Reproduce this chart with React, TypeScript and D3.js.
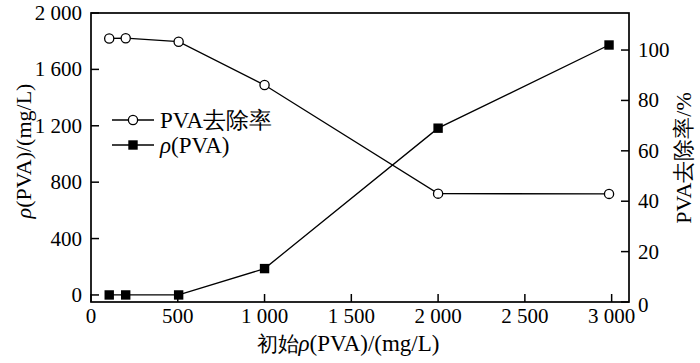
import * as d3 from 'd3';

const initialConc = [105, 200, 505, 1000, 2000, 2985];
const removalRate = [104.6, 104.7, 103.3, 86.1, 43.0, 42.9];
const residualConc = [0, 0, 0, 187, 1183, 1773];
const xTicks = [0, 500, 1000, 1500, 2000, 2500, 3000];
const leftTicks = [0, 400, 800, 1200, 1600, 2000];
const rightTicks = [0, 20, 40, 60, 80, 100];

const W = 700;
const H = 363;
const left = 91;
const right = 629;
const top = 13;
const bottom = 302;
const serif = 'Liberation Serif';

const fmt = (v: number) =>
  v >= 1000 ? `${Math.floor(v / 1000)} ${String(v % 1000).padStart(3, '0')}` : String(v);

export default function App() {
  const x = d3.scaleLinear().domain([0, 3100]).range([left, right]);
  const yL = d3.scaleLinear().domain([-50, 2000]).range([bottom, top]);
  const yR = d3.scaleLinear().domain([0, 114.7]).range([bottom, top]);

  const rateLine = d3.line<number>().x((_, i) => x(initialConc[i])).y(d => yR(d))(removalRate) || '';
  const concLine = d3.line<number>().x((_, i) => x(initialConc[i])).y(d => yL(d))(residualConc) || '';

  const tick = 8;

  return (
    <svg width={W} height={H} style={{ position: 'absolute', left: 0, top: 0, background: '#fff' }}>
      <rect x={left} y={top} width={right - left} height={bottom - top} fill="none" stroke="#000" strokeWidth={1.7} />

      {xTicks.map(t => (
        <g key={'x' + t}>
          <line x1={x(t)} x2={x(t)} y1={bottom} y2={bottom - tick} stroke="#000" strokeWidth={1.5} />
          <text x={x(t)} y={323} textAnchor="middle" fontFamily={serif} fontSize={21}>{fmt(t)}</text>
        </g>
      ))}
      {leftTicks.map(t => (
        <g key={'l' + t}>
          <line x1={left} x2={left + tick} y1={yL(t)} y2={yL(t)} stroke="#000" strokeWidth={1.5} />
          <text x={82} y={yL(t)} textAnchor="end" dominantBaseline="central" fontFamily={serif} fontSize={21}>{fmt(t)}</text>
        </g>
      ))}
      {rightTicks.map(t => (
        <g key={'r' + t}>
          <line x1={right} x2={right - tick} y1={yR(t)} y2={yR(t)} stroke="#000" strokeWidth={1.5} />
          <text x={638} y={t === 0 ? yR(t) + 3 : yR(t)} dominantBaseline="central" fontFamily={serif} fontSize={21}>{t}</text>
        </g>
      ))}

      <path d={concLine} fill="none" stroke="#000" strokeWidth={1.3} />
      <path d={rateLine} fill="none" stroke="#000" strokeWidth={1.3} />
      {residualConc.map((d, i) => (
        <rect key={'s' + i} x={x(initialConc[i]) - 4.7} y={yL(d) - 4.7} width={9.4} height={9.4} fill="#000" />
      ))}
      {removalRate.map((d, i) => (
        <circle key={'c' + i} cx={x(initialConc[i])} cy={yR(d)} r={4.6} fill="#fff" stroke="#000" strokeWidth={1.3} />
      ))}

      {/* legend */}
      <line x1={112} x2={154} y1={120} y2={120} stroke="#000" strokeWidth={1.3} />
      <circle cx={133} cy={120} r={4.6} fill="#fff" stroke="#000" strokeWidth={1.3} />
      <text x={160} y={120} dominantBaseline="central" fontFamily={serif} fontSize={23}>PVA去除率</text>
      <line x1={112} x2={154} y1={145} y2={145} stroke="#000" strokeWidth={1.3} />
      <rect x={133 - 4.7} y={145 - 4.7} width={9.4} height={9.4} fill="#000" />
      <text x={160} y={145} dominantBaseline="central" fontFamily={serif} fontSize={23}>
        <tspan fontStyle="italic">ρ</tspan>(PVA)
      </text>

      {/* axis titles */}
      <text x={348} y={351} textAnchor="middle" fontFamily={serif} fontSize={23}>
        <tspan fontSize={21}>初始</tspan><tspan fontStyle="italic">ρ</tspan>(PVA)/(mg/L)
      </text>
      <text transform="translate(23,151) rotate(-90)" textAnchor="middle" dominantBaseline="central" fontFamily={serif} fontSize={22}>
        <tspan fontStyle="italic">ρ</tspan>(PVA)/(mg/L)
      </text>
      <text transform="translate(683,158) rotate(-90)" textAnchor="middle" dominantBaseline="central" fontFamily={serif} fontSize={22}>
        PVA去除率/%
      </text>
    </svg>
  );
}
